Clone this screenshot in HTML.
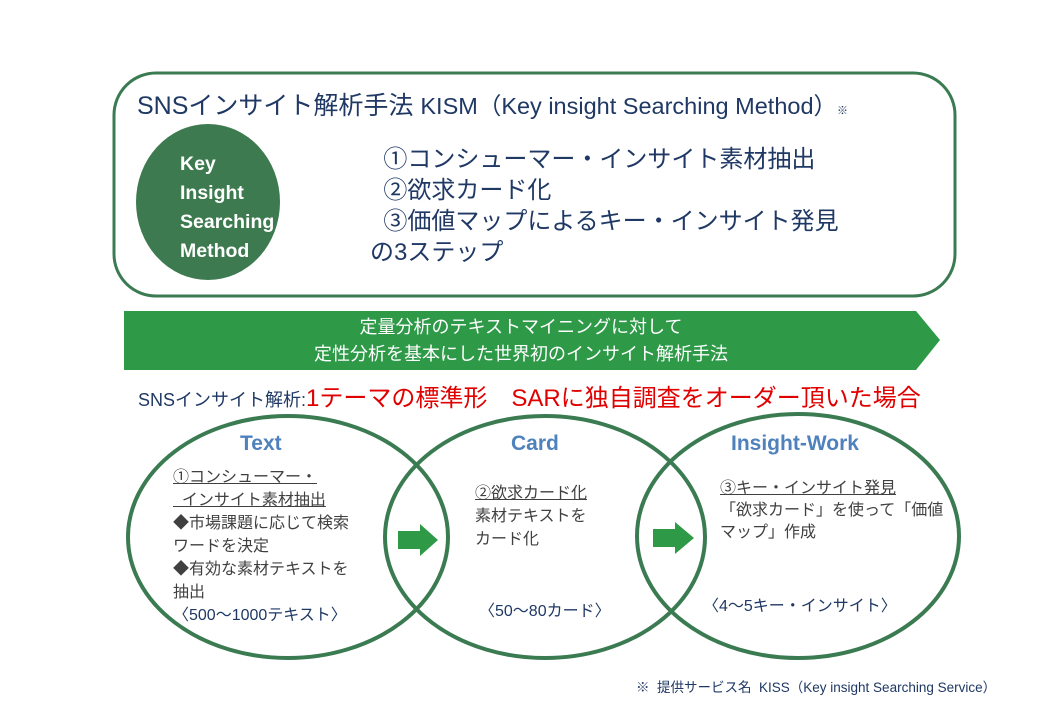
<!DOCTYPE html>
<html><head><meta charset="utf-8"><style>
body{margin:0;width:1040px;height:720px;background:#fff;position:relative;overflow:hidden;font-family:"Liberation Sans","Noto Sans CJK JP",sans-serif}
.a{position:absolute;white-space:nowrap}
</style></head><body>
<svg width="1040" height="720" style="position:absolute;left:0;top:0">
<rect x="114" y="73" width="841" height="223" rx="42" fill="#fff" stroke="#3b7b52" stroke-width="3"/>
<ellipse cx="208" cy="202" rx="72" ry="78" fill="#3d7a4f"/>
<polygon points="124,311 916,311 940,340 916,370 124,370" fill="#2e9a48"/>
<ellipse cx="288" cy="537" rx="160" ry="121" fill="none" stroke="#3b7b52" stroke-width="4"/>
<ellipse cx="545" cy="537" rx="160" ry="121" fill="none" stroke="#3b7b52" stroke-width="4"/>
<ellipse cx="798" cy="536" rx="161" ry="122" fill="none" stroke="#3b7b52" stroke-width="4"/>
<polygon points="398,531 420,531 420,524 438,540 420,556 420,549 398,549" fill="#2e9a48"/>
<polygon points="653,529 675,529 675,522 694,538 675,554 675,547 653,547" fill="#2e9a48"/>
</svg>
<div class="a" style="left:137px;top:86px;font-size:25px;color:#1f3864">SNSインサイト解析手法 <span style="font-size:23.5px">KISM（Key insight Searching Method）</span><span style="font-size:11px">※</span></div>
<div class="a" style="left:180px;top:150px;font-size:19.5px;font-weight:bold;color:#fff;line-height:29px">Key<br>Insight<br>Searching<br>Method</div>
<div class="a" style="left:370px;top:144px;font-size:24px;color:#1f3864;line-height:31px">&nbsp;&nbsp;①コンシューマー・インサイト素材抽出<br>&nbsp;&nbsp;②欲求カード化<br>&nbsp;&nbsp;③価値マップによるキー・インサイト発見<br>の3ステップ</div>
<div class="a" style="left:124px;top:314px;width:794px;text-align:center;font-size:18px;color:#fff;line-height:27px">定量分析のテキストマイニングに対して<br>定性分析を基本にした世界初のインサイト解析手法</div>
<div class="a" style="left:138px;top:378px;font-size:18px;color:#1f3864">SNSインサイト解析:<span style="color:#e00000;font-size:24px">1テーマの標準形　SARに独自調査をオーダー頂いた場合</span></div>
<div class="a" style="left:240px;top:432px;font-size:21px;font-weight:bold;color:#4f81bd">Text</div>
<div class="a" style="left:511px;top:432px;font-size:21px;font-weight:bold;color:#4f81bd">Card</div>
<div class="a" style="left:731px;top:432px;font-size:21px;font-weight:bold;color:#4f81bd">Insight-Work</div>
<div class="a" style="left:173px;top:466px;font-size:16px;color:#404040;line-height:23px"><u>①コンシューマー・</u><br><u>&nbsp;&nbsp;インサイト素材抽出</u><br>◆市場課題に応じて検索<br>ワードを決定<br>◆有効な素材テキストを<br>抽出<br><span style="color:#1f3864">〈500〜1000テキスト〉</span></div>
<div class="a" style="left:475px;top:482px;font-size:16px;color:#404040;line-height:23px"><u>②欲求カード化</u><br>素材テキストを<br>カード化</div>
<div class="a" style="left:479px;top:597px;font-size:16px;color:#1f3864">〈50〜80カード〉</div>
<div class="a" style="left:720px;top:478px;font-size:16px;color:#404040;line-height:22px"><u>③キー・インサイト発見</u><br>「欲求カード」を使って「価値<br>マップ」作成</div>
<div class="a" style="left:703px;top:592px;font-size:16px;color:#1f3864">〈4〜5キー・インサイト〉</div>
<div class="a" style="left:636px;top:676px;font-size:13.5px;color:#1f3864">※&nbsp;&nbsp;提供サービス名&nbsp;&nbsp;KISS（Key insight Searching Service）</div>
</body></html>
